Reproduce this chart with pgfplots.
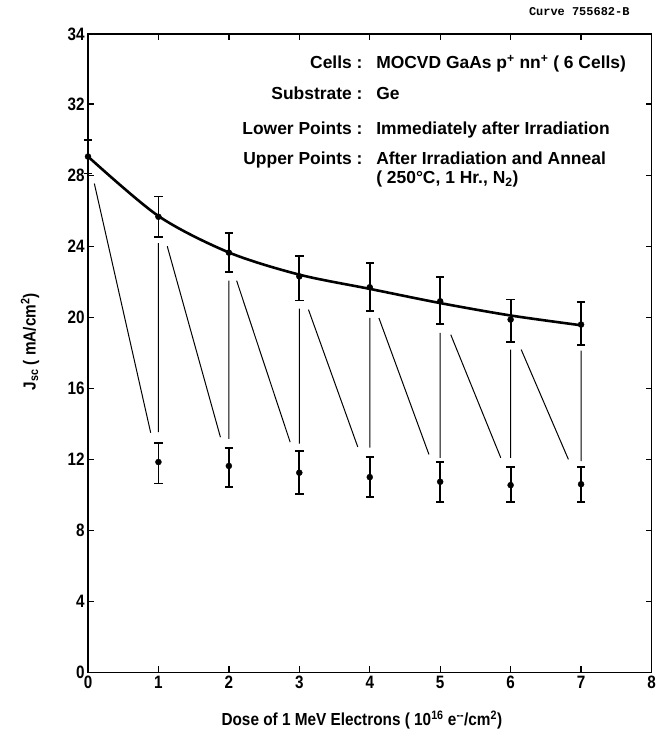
\documentclass[border=0pt]{standalone}
\usepackage{fontspec}
\setmainfont{Liberation Sans}
\newfontfamily\curvefont{Liberation Mono}
\newfontfamily\narrowfont{Liberation Sans}[FakeStretch=0.85]
\newfontfamily\labelfont{Liberation Sans}[FakeStretch=0.88]
\usepackage{pgfplots}
\usepackage{pgfplotstable}
\pgfplotsset{compat=1.18}

\pgfplotstableread{
x y ep em
0 29.05 0.95 0.95
1 25.66 1.14 1.12
2 23.64 1.09 1.10
3 22.30 1.16 1.35
4 21.69 1.37 1.35
5 20.90 1.35 1.28
6 19.87 1.13 1.27
7 19.59 1.27 1.17
}\uppertab

\pgfplotstableread{
x y ep em
1 11.85 1.05 1.21
2 11.63 1.01 1.18
3 11.25 1.20 1.18
4 11.00 1.15 1.10
5 10.74 1.11 1.14
6 10.55 1.02 0.95
7 10.60 0.97 1.00
}\lowertab

\begin{document}
\begin{tikzpicture}
\useasboundingbox (-88bp,-66.5bp) rectangle (568bp,672.5bp);
\begin{axis}[
  at={(0,0)}, anchor=south west,
  width=563.5bp, height=638.5bp, scale only axis,
  xmin=0, xmax=8, ymin=0, ymax=35.95,
  xtick={0,1,...,8},
  ytick={0,4,8,12,16,20,24,28,32,35.95},
  yticklabels={0,4,8,12,16,20,24,28,32,34},
  tick align=inside,
  major tick length=6bp,
  tick style={line width=1.3bp, black},
  axis line style={line width=1.8bp},
  /pgf/number format/assume math mode=true,
  ticklabel style={font=\narrowfont\fontsize{18}{18}\selectfont\bfseries},
  xlabel={Dose of 1 MeV Electrons ( 10\textsuperscript{16} e\textsuperscript{--}/cm\textsuperscript{2})},
  ylabel={J\textsubscript{sc} ( mA/cm\textsuperscript{2})},
  label style={font=\labelfont\fontsize{17.5}{17.5}\selectfont\bfseries},
  xlabel style={at={(axis description cs:0.486,-0.074)}, anchor=center},
  ylabel style={at={(axis description cs:-0.103,0.518)}, anchor=center},
  clip=false,
  unbounded coords=jump,
]
% connector lines
\addplot[black, line width=1bp] coordinates {
(0.09,27.53) (0.89,13.50) (nan,nan)
(1.125,24.0) (1.88,13.25) (nan,nan)
(2.11,22.06) (2.87,12.97) (nan,nan)
(3.13,20.43) (3.83,12.70) (nan,nan)
(4.13,19.96) (4.84,12.28) (nan,nan)
(5.15,19.02) (5.86,12.09) (nan,nan)
(6.15,18.18) (6.82,12.00) (nan,nan)
(1,24.17) (1,13.53) (nan,nan)
(2,22.06) (2,13.16) (nan,nan)
(3,20.49) (3,12.88) (nan,nan)
(4,19.96) (4,12.66) (nan,nan)
(5,19.12) (5,12.09) (nan,nan)
(6,18.18) (6,12.09) (nan,nan)
(7,18.12) (7,11.90)
};
% fitted curve
\addplot[black, line width=2.6bp, smooth] coordinates {
(0,29.05) (1,25.70) (2,23.65) (3,22.40) (4,21.60) (5,20.80) (6,20.10) (7,19.55)
};
% upper points
\addplot[black, only marks, mark=*, mark size=3bp,
  error bars/.cd, y dir=both, y explicit,
  error bar style={line width=1.8bp},
  error mark options={rotate=90, mark size=4.2bp, line width=1.8bp}]
  table[x=x, y=y, y error plus=ep, y error minus=em] {\uppertab};
% lower points
\addplot[black, only marks, mark=*, mark size=3bp,
  error bars/.cd, y dir=both, y explicit,
  error bar style={line width=1.8bp},
  error mark options={rotate=90, mark size=4.2bp, line width=1.8bp}]
  table[x=x, y=y, y error plus=ep, y error minus=em] {\lowertab};

% annotations
\begin{scope}[every node/.style={font=\fontsize{17.5}{17.5}\selectfont\bfseries, inner sep=0pt}]
\node[anchor=base east] at (axis cs:3.90,34.01) {Cells :};
\node[anchor=base west] at (axis cs:4.09,34.01) {MOCVD GaAs p\textsuperscript{+} nn\textsuperscript{+} ( 6 Cells)};
\node[anchor=base east] at (axis cs:3.90,32.26) {Substrate :};
\node[anchor=base west] at (axis cs:4.09,32.26) {Ge};
\node[anchor=base east] at (axis cs:3.90,30.29) {Lower Points :};
\node[anchor=base west] at (axis cs:4.09,30.29) {Immediately after Irradiation};
\node[anchor=base east] at (axis cs:3.90,28.60) {Upper Points :};
\node[anchor=base west] at (axis cs:4.09,28.60) {After Irradiation and Anneal};
\node[anchor=base west] at (axis cs:4.09,27.53) {( 250\textdegree C, 1 Hr., N\textsubscript{2})};
\end{scope}
\node[anchor=east, inner sep=0pt, font=\curvefont\bfseries\fontsize{12}{12}\selectfont] at (axis cs:7.69,37.19) {Curve 755682-B};
\end{axis}
\end{tikzpicture}
\end{document}
